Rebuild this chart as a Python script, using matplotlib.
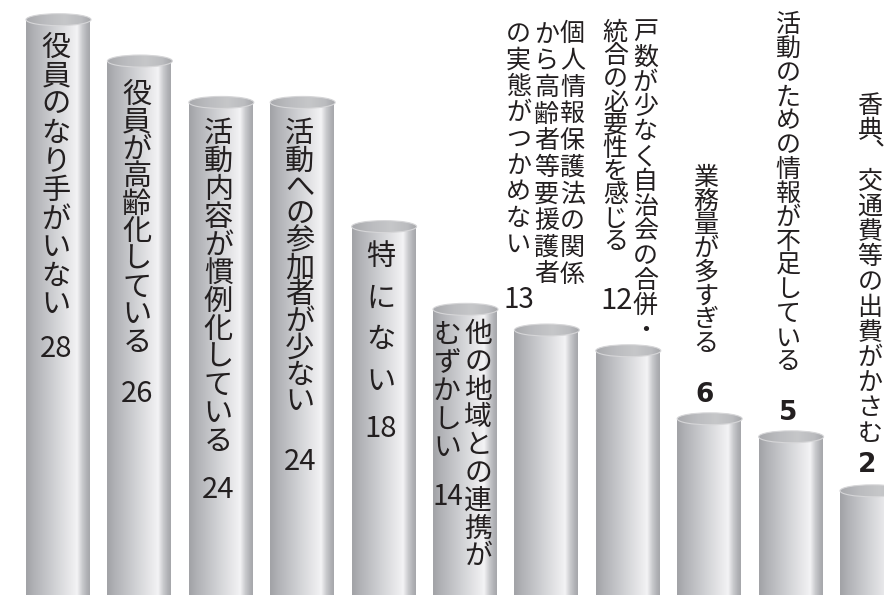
import numpy as np
import matplotlib
matplotlib.use('Agg')
import matplotlib.pyplot as plt
from matplotlib.patches import Ellipse
from matplotlib.colors import LinearSegmentedColormap
from matplotlib.transforms import IdentityTransform

plt.rcParams['font.family'] = ['Noto Sans CJK JP', 'DejaVu Sans']

# ---------------- data ----------------
categories = [
    '役員のなり手がいない',
    '役員が高齢化している',
    '活動内容が慣例化している',
    '活動への参加者が少ない',
    '特にない',
    '他の地域との連携がむずかしい',
    '個人情報保護法の関係から高齢者等要援護者の実態がつかめない',
    '戸数が少なく自治会の合併・統合の必要性を感じる',
    '業務量が多すぎる',
    '活動のための情報が不足している',
    '香典、交通費等の出費がかさむ',
]
values = [28, 26, 24, 24, 18, 14, 13, 12, 6, 5, 2]
# the label text broken into vertical columns (right to left)
label_columns = [
    ['役員のなり手がいない'],
    ['役員が高齢化している'],
    ['活動内容が慣例化している'],
    ['活動への参加者が少ない'],
    ['特にない'],
    ['他の地域との連携が', 'むずかしい'],
    ['個人情報保護法の関係', 'から高齢者等要援護者', 'の実態がつかめない'],
    ['戸数が少なく自治会の合併・', '統合の必要性を感じる'],
    ['業務量が多すぎる'],
    ['活動のための情報が不足している'],
    ['香典、交通費等の出費がかさむ'],
]

# ---------------- figure ----------------
W, H, DPI = 884, 595, 100
fig = plt.figure(figsize=(W / DPI, H / DPI), dpi=DPI)
fig.patch.set_facecolor('white')
ax = fig.add_axes([0, 0, 1, 1])
ax.set_axis_off()

# the original chart compresses the low end of its value axis
SCALE_IN = [0, 2, 6, 12]
SCALE_OUT = [0, 5.23, 8.71, 12]


def forward(v):
    v = np.asarray(v, dtype=float)
    return np.where(v >= 12, v, np.interp(v, SCALE_IN, SCALE_OUT))


def inverse(u):
    u = np.asarray(u, dtype=float)
    return np.where(u >= 12, u, np.interp(u, SCALE_OUT, SCALE_IN))


ax.set_yscale('function', functions=(forward, inverse))

x = np.arange(len(values))
BAR_W = 0.7985
XLIM = (-0.7187, 10.1413)
YLIM = (0.074, 28.95)
ax.set_xlim(*XLIM)
ax.set_ylim(*YLIM)

body_cmap = LinearSegmentedColormap.from_list('body', [
    (0.00, '#a2a3a7'), (0.10, '#afb0b4'), (0.45, '#d2d3d6'),
    (0.70, '#ebebed'), (0.78, '#f3f3f5'), (0.86, '#cacbce'),
    (0.93, '#b1b2b6'), (1.00, '#a0a1a5')])
top_cmap = LinearSegmentedColormap.from_list('top', [
    (0.00, '#a8a9ad'), (0.30, '#bbbcbf'), (0.60, '#c6c7c9'),
    (0.85, '#bbbcbf'), (1.00, '#a6a7ab')])
grad = np.linspace(0, 1, 256).reshape(1, -1)

bars = ax.bar(x, values, width=BAR_W, color='none', edgecolor='none')

for rect in bars:
    x0 = rect.get_x()
    x1 = x0 + rect.get_width()
    top = rect.get_height()
    im = ax.imshow(grad, extent=(x0, x1, YLIM[0], top), aspect='auto',
                   cmap=body_cmap, zorder=1, interpolation='bilinear')
    im.set_clip_path(rect)

# cylinder tops, drawn in pixel space
ax.set_xlim(*XLIM)
ax.set_ylim(*YLIM)
for rect in bars:
    cx_d = rect.get_x() + rect.get_width() / 2
    (cxp, typ) = ax.transData.transform((cx_d, rect.get_height()))
    (x0p, _) = ax.transData.transform((rect.get_x(), rect.get_height()))
    wp = 2 * (cxp - x0p)
    hp = 12
    ell = Ellipse((cxp, typ), wp, hp, transform=IdentityTransform(),
                  facecolor='none', edgecolor='#d6d6d8', linewidth=0.8,
                  zorder=2.5)
    ax.add_patch(ell)
    im = ax.imshow(grad, extent=(cxp - wp / 2, cxp + wp / 2, typ - hp / 2, typ + hp / 2),
                   aspect='auto', cmap=top_cmap, zorder=2,
                   interpolation='bilinear', transform=IdentityTransform())
    im.set_clip_path(ell)

ax.set_xlim(*XLIM)
ax.set_ylim(*YLIM)

# ---------------- labels (pixel layout) ----------------
TXT = '#231f20'
# per bar: column x-offsets (px from bar centre), first-character y (px from top),
# pitch per column, font size, number (dx, y, size, style)
layout = [
    dict(cols=[-2.5], y0=[48], pitch=[28.6], fs=21, num=(-2.5, 349, 21, 'n')),
    dict(cols=[-3], y0=[94.5], pitch=[27.6], fs=21, num=(-3, 393.5, 21, 'n')),
    dict(cols=[-3], y0=[134], pitch=[28], fs=21, num=(-3, 490, 21, 'n')),
    dict(cols=[-3], y0=[134.5], pitch=[26.8], fs=21, num=(-3, 462, 21, 'n')),
    dict(cols=[-3], y0=[257], pitch=[41.7], fs=21, num=(-3, 429, 21, 'n')),
    dict(cols=[12.5, -18.5], y0=[334, 335], pitch=[27.8, 28.2], fs=20,
         num=(-18, 497, 20, 'n')),
    dict(cols=[25.5, -0.5, -28.5], y0=[34, 35, 34], pitch=[26.8, 26.6, 26.4], fs=18,
         num=(-28.5, 300, 20, 'n')),
    dict(cols=[17, -13], y0=[33, 33], pitch=[24.8, 23.2], fs=18,
         num=(-12, 301, 21, 'n')),
    dict(cols=[-3.7], y0=[178], pitch=[23.7], fs=18, num=(-4.7, 395, 19, 'b')),
    dict(cols=[-3], y0=[25], pitch=[24.1], fs=18, num=(-3, 413, 19, 'b')),
    dict(cols=[-2.5], y0=[106], pitch=[25.2], fs=18, num=(-5.5, 465, 19, 'b')),
]


def put(xp, yp, s, **kw):
    ax.text(xp, H - yp, s, transform=IdentityTransform(), ha='center',
            va='center', color=TXT, zorder=3, **kw)


for i, rect in enumerate(bars):
    cx_d = rect.get_x() + rect.get_width() / 2
    cxp = ax.transData.transform((cx_d, values[i]))[0]
    L = layout[i]
    for c, col in enumerate(label_columns[i]):
        xp = cxp + L['cols'][c]
        for k, ch in enumerate(col):
            yp = L['y0'][c] + k * L['pitch'][c]
            if ch == '、':
                # vertical-writing comma sits at the upper right of its cell
                put(xp, yp - 11, ch, fontsize=L['fs'], rotation=180)
            else:
                put(xp, yp, ch, fontsize=L['fs'])
    dx, ny, nfs, style = L['num']
    if style == 'b':
        put(cxp + dx, ny, str(values[i]), fontsize=nfs, fontweight='bold',
            family=['DejaVu Sans'])
    else:
        put(cxp + dx, ny, str(values[i]), fontsize=nfs)

fig.savefig('out.png', dpi=DPI)
